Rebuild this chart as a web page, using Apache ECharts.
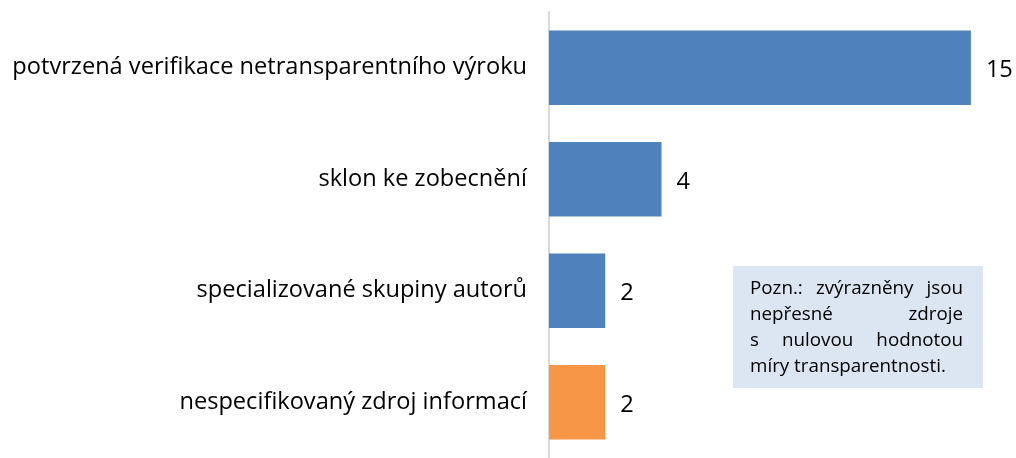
<!DOCTYPE html>
<html>
<head>
<meta charset="utf-8">
<script src="https://cdn.jsdelivr.net/npm/echarts@6/dist/echarts.min.js"></script>
<style>
  html, body { margin: 0; padding: 0; background: #fff; }
  #chart { width: 1016px; height: 458px; }
</style>
</head>
<body>
<div id="chart"></div>
<script>
var categories = [
    'potvrzená verifikace netransparentního výroku',
    'sklon ke zobecnění',
    'specializované skupiny autorů',
    'nespecifikovaný zdroj informací'
];
var values = [15, 4, 2, 2];
var highlighted = [false, false, false, true];
var noteLines = [
    ['Pozn.:', 'zvýrazněny', 'jsou'],
    ['nepřesné', 'zdroje'],
    ['s', 'nulovou', 'hodnotou'],
    ['míry', 'transparentnosti.']
];

var chart = echarts.init(document.getElementById('chart'));
var FONT = '"Open Sans", sans-serif';
var ctx = document.createElement('canvas').getContext('2d');

// velikost písma tak, aby text měl danou šířku
function fitSize(text, width) {
    ctx.font = '100px ' + FONT;
    return Math.round(width / ctx.measureText(text).width * 1000) / 10;
}
var labelSize = fitSize(categories[0], 514);
var noteSize = fitSize(noteLines[3].join(' '), 196);

// poznámka - zarovnaný text do bloku
function noteGraphic() {
    var box = { x: 733, y: 266, w: 250, h: 122 };
    var padL = 17, padR = 20, lh = 26, firstY = 289;
    ctx.font = noteSize + 'px ' + FONT;
    var inner = box.w - padL - padR;
    var els = [{
        type: 'rect',
        shape: { x: box.x, y: box.y, width: box.w, height: box.h },
        style: { fill: '#dce6f2' }
    }];
    for (var i = 0; i < noteLines.length; i++) {
        var words = noteLines[i];
        var widths = words.map(function (w) { return ctx.measureText(w).width; });
        var sum = widths.reduce(function (a, b) { return a + b; }, 0);
        var last = i === noteLines.length - 1;
        var gap = last ? ctx.measureText(' ').width : (inner - sum) / (words.length - 1);
        var x = box.x + padL;
        for (var j = 0; j < words.length; j++) {
            els.push({
                type: 'text',
                x: x,
                y: firstY + i * lh,
                style: {
                    text: words[j],
                    fill: '#000',
                    font: noteSize + 'px ' + FONT,
                    verticalAlign: 'middle'
                }
            });
            x += widths[j] + gap;
        }
    }
    return els;
}

chart.setOption({
    animation: false,
    grid: {
        left: 549,
        top: 12,
        width: 450,
        height: 452
    },
    xAxis: {
        type: 'value',
        min: 0,
        max: 16,
        show: false
    },
    yAxis: {
        type: 'category',
        data: categories,
        inverse: true,
        axisLine: { show: true, lineStyle: { color: '#d9d9d9', width: 2 } },
        axisTick: { show: false },
        axisLabel: {
            margin: 22,
            padding: [6, 0, 0, 0],
            fontSize: labelSize,
            fontFamily: FONT,
            color: '#000'
        }
    },
    series: [{
        type: 'bar',
        barCategoryGap: '33%',
        data: values.map(function (v, i) {
            return {
                value: v,
                itemStyle: { color: highlighted[i] ? '#f79646' : '#4f81bd' }
            };
        }),
        label: {
            show: true,
            position: 'right',
            distance: 15,
            offset: [0, 3],
            fontSize: labelSize,
            fontFamily: FONT,
            color: '#000'
        }
    }],
    graphic: noteGraphic()
});
</script>
</body>
</html>
